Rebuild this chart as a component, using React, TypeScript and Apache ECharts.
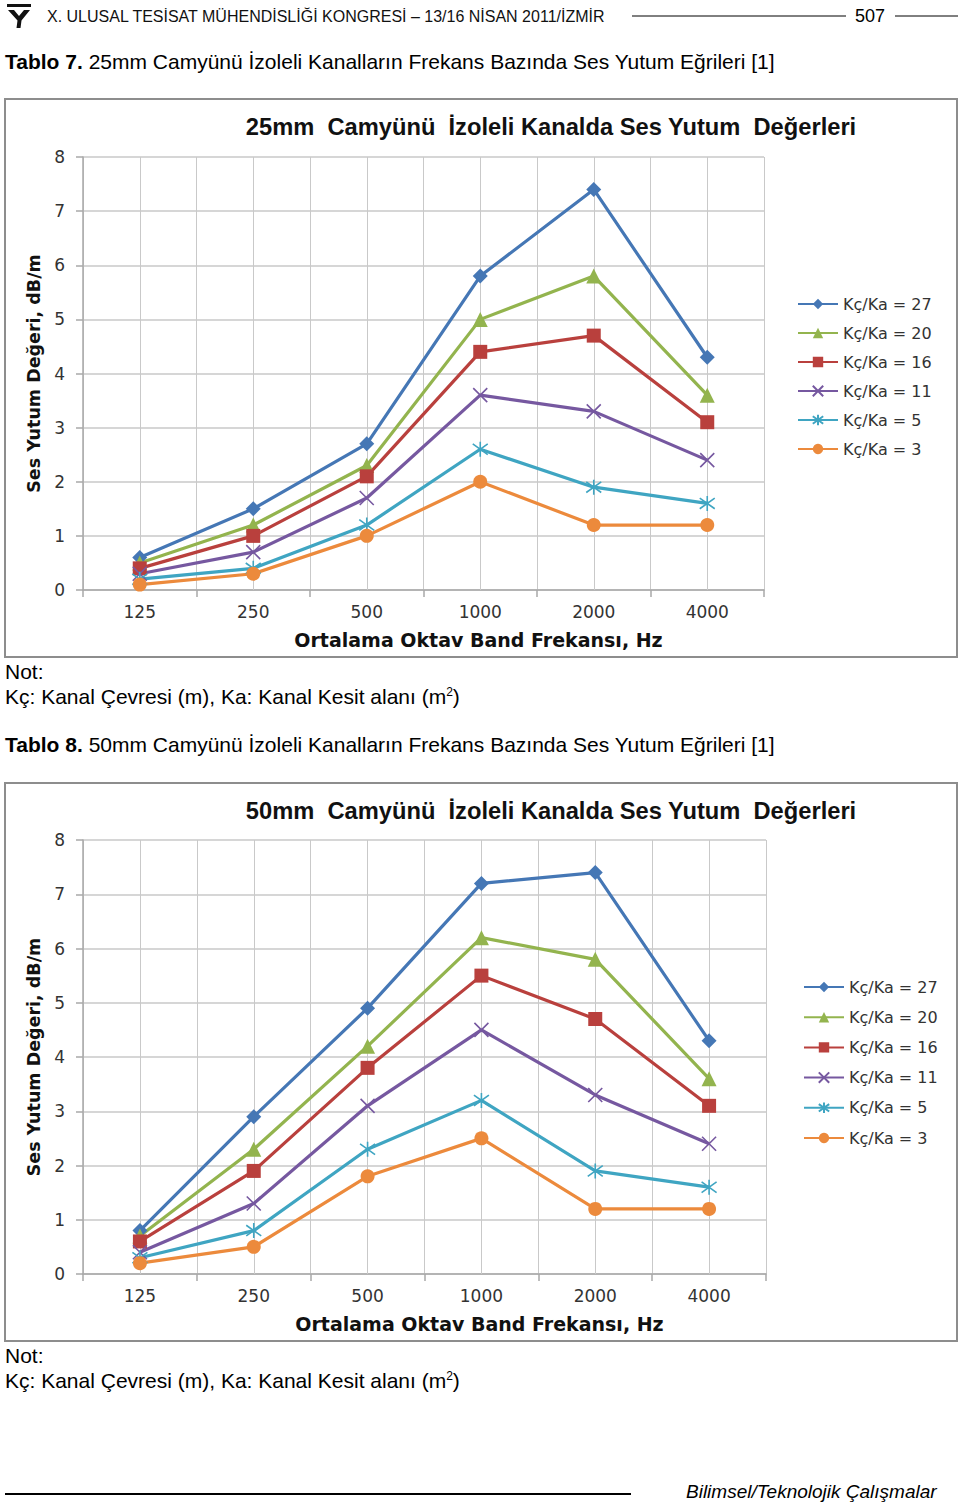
import React, { useEffect, useRef } from "react";
import * as echarts from "echarts";

const categories = ["125", "250", "500", "1000", "2000", "4000"];
const seriesNames = ["Kç/Ka = 27", "Kç/Ka = 20", "Kç/Ka = 16", "Kç/Ka = 11", "Kç/Ka = 5", "Kç/Ka = 3"];
const yTicks = [0, 8, 1];

// Chart 1: 25mm
const c1_27 = [0.6, 1.5, 2.7, 5.8, 7.4, 4.3];
const c1_20 = [0.5, 1.2, 2.3, 5.0, 5.8, 3.6];
const c1_16 = [0.4, 1.0, 2.1, 4.4, 4.7, 3.1];
const c1_11 = [0.3, 0.7, 1.7, 3.6, 3.3, 2.4];
const c1_5 = [0.2, 0.4, 1.2, 2.6, 1.9, 1.6];
const c1_3 = [0.1, 0.3, 1.0, 2.0, 1.2, 1.2];

// Chart 2: 50mm
const c2_27 = [0.8, 2.9, 4.9, 7.2, 7.4, 4.3];
const c2_20 = [0.7, 2.3, 4.2, 6.2, 5.8, 3.6];
const c2_16 = [0.6, 1.9, 3.8, 5.5, 4.7, 3.1];
const c2_11 = [0.4, 1.3, 3.1, 4.5, 3.3, 2.4];
const c2_5 = [0.3, 0.8, 2.3, 3.2, 1.9, 1.6];
const c2_3 = [0.2, 0.5, 1.8, 2.5, 1.2, 1.2];

const chart1Data = [c1_27, c1_20, c1_16, c1_11, c1_5, c1_3];
const chart2Data = [c2_27, c2_20, c2_16, c2_11, c2_5, c2_3];

const COLORS = ["#4577b5", "#93b44e", "#b9403d", "#7658a0", "#3fa5c2", "#ec8a3c"];
const SYMBOLS = [
  "diamond",
  "triangle",
  "rect",
  "path://M0,0L10,10M10,0L0,10",
  "path://M0,0L10,10M10,0L0,10M5,-2L5,12",
  "circle",
];
const SIZES = [15, 15, 14, 14, 15, 14];

const FONT = "'Liberation Sans', Arial, sans-serif";
const WIDE = "'DejaVu Sans', 'Liberation Sans', sans-serif";
const GRID_COLOR = "#c9c9c9";
const AXIS_COLOR = "#a8a8a8";

const LOGO_D =
  "M0,0 L24,0 L24,3 L0,3 Z M1,6 L7,6 L12,12 L17,6 L23,6 L14.5,16.5 L13.5,24 L9.5,24 L10.5,16.5 Z";

function buildOption() {
  const grids = [
    { left: 83, top: 157, width: 681, height: 433 },
    { left: 83, top: 840, width: 683, height: 434 },
  ];
  const xAxis: any[] = [];
  const yAxis: any[] = [];
  grids.forEach((g, i) => {
    xAxis.push({
      gridIndex: i,
      type: "category",
      data: categories,
      boundaryGap: true,
      axisLine: { show: true, lineStyle: { color: AXIS_COLOR, width: 1.5 } },
      axisTick: { show: true, interval: 0, length: 7, lineStyle: { color: AXIS_COLOR, width: 1.5 } },
      splitLine: { show: true, interval: 0, lineStyle: { color: GRID_COLOR, width: 1 } },
      axisLabel: { interval: 0, fontSize: 17, color: "#333", margin: 13, fontFamily: WIDE },
      name: "Ortalama Oktav Band Frekansı, Hz",
      nameLocation: "middle",
      nameGap: 40,
      nameMoveOverlap: false,
      nameTextStyle: { fontSize: 19, fontWeight: "bold", color: "#111", fontFamily: WIDE, padding: [0, 0, 0, 110] },
    });
    xAxis.push({
      gridIndex: i,
      type: "category",
      data: categories,
      boundaryGap: true,
      position: "bottom",
      axisLine: { show: false },
      axisLabel: { show: false },
      splitLine: { show: false },
      axisTick: {
        show: true,
        interval: 0,
        alignWithLabel: true,
        inside: true,
        length: g.height,
        lineStyle: { color: GRID_COLOR, width: 1 },
      },
    });
    yAxis.push({
      gridIndex: i,
      type: "value",
      min: yTicks[0],
      max: yTicks[1],
      interval: yTicks[2],
      axisLine: { show: true, lineStyle: { color: AXIS_COLOR, width: 1.5 } },
      axisTick: { show: true, length: 7, lineStyle: { color: AXIS_COLOR, width: 1.5 } },
      splitLine: { show: true, lineStyle: { color: GRID_COLOR, width: 1.5 } },
      axisLabel: { fontSize: 17, color: "#333", margin: 18, fontFamily: WIDE },
      name: "Ses Yutum Değeri, dB/m",
      nameLocation: "middle",
      nameGap: 40,
      nameMoveOverlap: false,
      nameTextStyle: { fontSize: 17.5, fontWeight: "bold", color: "#111", fontFamily: WIDE, padding: [0, 0, 0, 0] },
    });
  });

  const series: any[] = [];
  [chart1Data, chart2Data].forEach((dataSet, gi) => {
    dataSet.forEach((vals, si) => {
      const c = COLORS[si];
      const isPath = SYMBOLS[si].startsWith("path://");
      series.push({
        type: "line",
        name: seriesNames[si],
        xAxisIndex: gi * 2,
        yAxisIndex: gi,
        data: vals,
        symbol: SYMBOLS[si],
        symbolSize: SIZES[si],
        showAllSymbol: true,
        lineStyle: { color: c, width: 3.2 },
        itemStyle: isPath
          ? { color: c, borderColor: c, borderWidth: 1.6 }
          : { color: c },
        emphasis: { disabled: true },
      });
    });
  });

  const legendBase = {
    orient: "vertical",
    itemWidth: 40,
    itemHeight: 13,
    padding: 0,
    data: seriesNames,
    textStyle: { fontSize: 16, lineHeight: 16, color: "#333", fontFamily: WIDE },
    selectedMode: false,
  };

  const titleStyle = {
    fontSize: 23.7,
    fontWeight: "bold",
    fontFamily: FONT,
    fill: "#111",
    align: "center",
    verticalAlign: "middle",
  };

  const graphic: any[] = [
    { type: "rect", shape: { x: 5, y: 99, width: 952, height: 558 }, style: { fill: "none", stroke: "#8d8d8d", lineWidth: 2 } },
    { type: "rect", shape: { x: 5, y: 783, width: 952, height: 558 }, style: { fill: "none", stroke: "#8d8d8d", lineWidth: 2 } },
    { type: "text", x: 551, y: 127, style: { ...titleStyle, text: "25mm  Camyünü  İzoleli Kanalda Ses Yutum  Değerleri" } },
    { type: "text", x: 551, y: 811, style: { ...titleStyle, text: "50mm  Camyünü  İzoleli Kanalda Ses Yutum  Değerleri" } },
    { type: "line", shape: { x1: 632, y1: 16, x2: 846, y2: 16 }, style: { stroke: "#000", lineWidth: 1 } },
    { type: "line", shape: { x1: 895, y1: 16, x2: 958, y2: 16 }, style: { stroke: "#000", lineWidth: 1 } },
    { type: "line", shape: { x1: 5, y1: 1494, x2: 631, y2: 1494 }, style: { stroke: "#000", lineWidth: 2 } },
    { type: "logo", x: 7, y: 4, scaleX: 1, scaleY: 1, style: { fill: "#111" } },
    { type: "circle", shape: { cx: 19, cy: 10.5, r: 1.8 }, style: { fill: "#fff" } },
  ];

  return {
    animation: false,
    backgroundColor: "#fff",
    grid: grids,
    xAxis,
    yAxis,
    legend: [
      { ...legendBase, left: 797, top: 296, itemGap: 13 },
      { ...legendBase, left: 803, top: 979, itemGap: 14.2 },
    ],
    series,
    graphic,
  };
}

const textBase: React.CSSProperties = {
  position: "absolute",
  whiteSpace: "nowrap",
  fontFamily: FONT,
  color: "#000",
};

function T(props: { left: number; cy: number; size: number; style?: React.CSSProperties; children: any }) {
  const lh = Math.round(props.size * 1.2);
  return (
    <div style={{ ...textBase, left: props.left, top: props.cy - lh / 2, fontSize: props.size, lineHeight: lh + "px", ...props.style }}>
      {props.children}
    </div>
  );
}

let registered = false;

export default function App() {
  const ref = useRef<HTMLDivElement>(null);
  useEffect(() => {
    if (!registered) {
      echarts.graphic.registerShape("logo", echarts.graphic.extendPath(LOGO_D as any, {}) as any);
      registered = true;
    }
    const chart = echarts.init(ref.current!, undefined, { renderer: "svg" });
    chart.setOption(buildOption() as any);
    return () => chart.dispose();
  }, []);

  const note = (
    <>
      Kç: Kanal Çevresi (m), Ka: Kanal Kesit alanı (m<sup style={{ fontSize: 12, verticalAlign: "8px", lineHeight: 0 }}>2</sup>)
    </>
  );

  return (
    <div style={{ position: "absolute", left: 0, top: 0, width: 960, height: 1507, background: "#fff" }}>
      <div ref={ref} style={{ position: "absolute", left: 0, top: 0, width: 960, height: 1507 }} />
      <T left={47} cy={16} size={16} style={{ color: "#111" }}>
        X. ULUSAL TESİSAT MÜHENDİSLİĞİ KONGRESİ – 13/16 NİSAN 2011/İZMİR
      </T>
      <T left={855} cy={16} size={18}>507</T>
      <T left={5} cy={61} size={21}>
        <b>Tablo 7.</b> 25mm Camyünü İzoleli Kanalların Frekans Bazında Ses Yutum Eğrileri [1]
      </T>
      <T left={5} cy={671} size={21}>Not:</T>
      <T left={5} cy={696} size={21}>{note}</T>
      <T left={5} cy={744} size={21}>
        <b>Tablo 8.</b> 50mm Camyünü İzoleli Kanalların Frekans Bazında Ses Yutum Eğrileri [1]
      </T>
      <T left={5} cy={1355} size={21}>Not:</T>
      <T left={5} cy={1380} size={21}>{note}</T>
      <T left={686} cy={1491} size={19} style={{ fontStyle: "italic" }}>Bilimsel/Teknolojik Çalışmalar</T>
    </div>
  );
}
